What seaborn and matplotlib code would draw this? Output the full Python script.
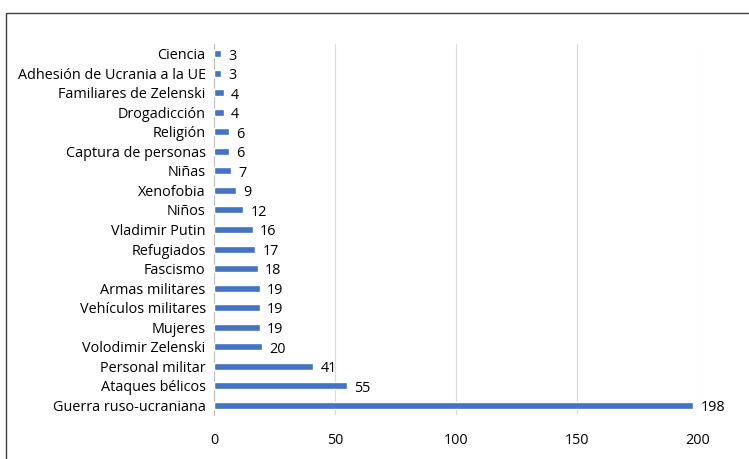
import matplotlib
matplotlib.use("Agg")
import matplotlib.pyplot as plt
import seaborn as sns
import pandas as pd
import numpy as np
from matplotlib.patches import Rectangle

categorias = [
    "Ciencia", "Adhesión de Ucrania a la UE", "Familiares de Zelenski",
    "Drogadicción", "Religión", "Captura de personas", "Niñas", "Xenofobia",
    "Niños", "Vladimir Putin", "Refugiados", "Fascismo", "Armas militares",
    "Vehículos militares", "Mujeres", "Volodimir Zelenski", "Personal militar",
    "Ataques bélicos", "Guerra ruso-ucraniana",
]
frecuencias = [3, 3, 4, 4, 6, 6, 7, 9, 12, 16, 17, 18, 19, 19, 19, 20, 41, 55, 198]
ticks_x = [0, 50, 100, 150, 200]

df = pd.DataFrame({"categoria": categorias, "frecuencia": frecuencias})

sns.set_theme(style="white")
plt.rcParams["font.family"] = ["Open Sans", "DejaVu Sans"]
FS = 10.4

fig = plt.figure(figsize=(7.49, 4.59), dpi=100)
ax = fig.add_axes([214 / 749, 1 - 415 / 459, (698 - 214) / 749, (415 - 44) / 459])

sns.barplot(data=df, y="categoria", x="frecuencia", orient="h",
            color="#4472C4", saturation=1, width=0.36, ax=ax, zorder=3)

for i, v in enumerate(frecuencias):
    ax.text(v + 3.0, i + 0.12, str(v), va="center", ha="left",
            fontsize=FS, color="#000000")

ax.set_xlim(0, 200)
ax.set_ylim(len(categorias) - 0.5, -0.5)
ax.set_xticks(ticks_x)
ax.set_xticklabels([str(t) for t in ticks_x], fontsize=FS, color="#000000")
ax.tick_params(axis="x", length=0, pad=13)
ax.tick_params(axis="y", which="major", length=0, labelsize=FS,
               labelcolor="#000000", pad=6)
ax.set_yticks(np.arange(-0.5, len(categorias), 1), minor=True)
ax.tick_params(axis="y", which="minor", length=4, color="#BFBFBF", width=0.8)
ax.grid(axis="x", color="#D9D9D9", linewidth=0.8, zorder=0)
ax.grid(axis="y", visible=False)
ax.set_xlabel("")
ax.set_ylabel("")
for side in ["top", "right", "bottom"]:
    ax.spines[side].set_visible(False)
ax.spines["left"].set_color("#BFBFBF")
ax.spines["left"].set_linewidth(0.8)

# outer chart frame
fig.patches.append(Rectangle((5.5 / 749, -0.1), 1.2, 1.1 - 13 / 459,
                             transform=fig.transFigure, fill=False,
                             edgecolor="#404040", linewidth=1.0))

fig.savefig("out.png", dpi=100)
